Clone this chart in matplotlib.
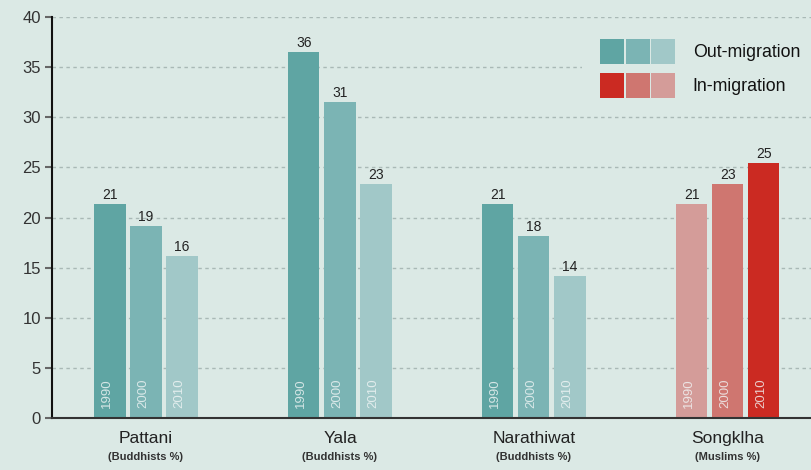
import matplotlib.pyplot as plt
from matplotlib.legend_handler import HandlerTuple
from matplotlib.patches import Patch
import numpy as np

provinces = ["Pattani", "Yala", "Narathiwat", "Songklha"]
subtitles = ["(Buddhists %)", "(Buddhists %)", "(Buddhists %)", "(Muslims %)"]
years = ["1990", "2000", "2010"]
# share per year, one list per province
values = [[21.3, 19.2, 16.2],
          [36.5, 31.5, 23.3],
          [21.3, 18.2, 14.2],
          [21.3, 23.3, 25.4]]
value_labels = [["21", "19", "16"],
                ["36", "31", "23"],
                ["21", "18", "14"],
                ["21", "23", "25"]]

out_colors = ["#5fa5a3", "#7bb4b4", "#a1c8c8"]
in_colors = ["#d49c99", "#cf7670", "#cb2a22"]
bg = "#dbe9e5"

plt.rcParams['font.family'] = ['Liberation Sans', 'DejaVu Sans']

fig = plt.figure(figsize=(8.11, 4.70), dpi=100, facecolor=bg)
ax = fig.add_axes([0.064, 0.1106, 0.936, 0.8532], facecolor=bg)

x = np.arange(len(provinces))
w = 0.16
step = 0.1856
for i in range(len(provinces)):
    cols = in_colors if i == 3 else out_colors
    for j in range(3):
        xp = x[i] + (j - 1) * step
        ax.bar(xp, values[i][j], width=w, color=cols[j], zorder=3)
        ax.text(xp, values[i][j] + 0.2, value_labels[i][j], ha='center', va='bottom',
                fontsize=10, color='#222222', zorder=4)
        ax.text(xp - 0.015, 1.0, years[j], rotation=90, ha='center', va='bottom',
                fontsize=9.5, color='#f2f6f6', alpha=0.8, zorder=4)

ax.set_xlim(-0.485, 3.428)
ax.set_ylim(0, 40)
ax.set_yticks(np.arange(0, 41, 5))
ax.tick_params(axis='y', length=5, width=1.5, color='#666666', labelsize=12,
               labelcolor='#333333', pad=3)
ax.set_xticks([])
for yv in range(5, 41, 5):
    ax.axhline(yv, color='#a9b9b6', linestyle=(0, (2.5, 2.5)), linewidth=1, zorder=1)

for s in ['top', 'right']:
    ax.spines[s].set_visible(False)
ax.spines['left'].set_color('#111111')
ax.spines['left'].set_linewidth(1.5)
ax.spines['bottom'].set_color('#333333')
ax.spines['bottom'].set_linewidth(1.5)
ax.spines['bottom'].set_zorder(5)

tr = ax.get_xaxis_transform()
for i in range(len(provinces)):
    ax.text(x[i], -0.052, provinces[i], transform=tr, ha='center', va='center',
            fontsize=12.5, color='#222222')
    ax.text(x[i], -0.098, subtitles[i], transform=tr, ha='center', va='center',
            fontsize=8, fontweight='bold', color='#333333')

out_h = tuple(Patch(facecolor=c) for c in out_colors)
in_h = tuple(Patch(facecolor=c) for c in in_colors[::-1])
leg = ax.legend([out_h, in_h], ["Out-migration", "In-migration"],
                handler_map={tuple: HandlerTuple(ndivide=None, pad=0.08)},
                loc='upper right', bbox_to_anchor=(1.009, 0.99), fontsize=12.8,
                handlelength=4.2, handleheight=1.8, handletextpad=1.0,
                labelspacing=0.5, borderpad=1.0, borderaxespad=0.0,
                facecolor=bg, edgecolor='none', framealpha=1, fancybox=False)
leg.set_zorder(6)
for t in leg.get_texts():
    t.set_color('#111111')

fig.savefig('out.png', dpi=100, facecolor=bg)
